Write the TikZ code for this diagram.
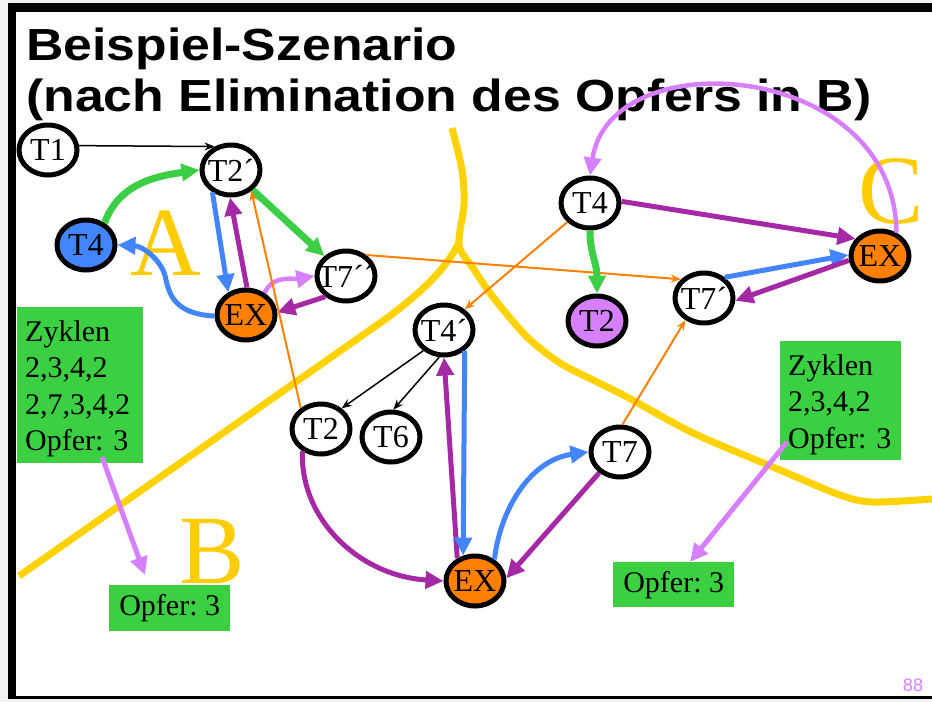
\documentclass[tikz,border=0pt]{standalone}
\usepackage{graphicx}
\usepackage{fontspec}
\setmainfont{Liberation Serif}
\newfontfamily\headfont{Liberation Sans}
\usetikzlibrary{shapes.geometric,arrows.meta}
\frenchspacing

\definecolor{boxgreen}{HTML}{3BD042}
\definecolor{agreen}{HTML}{3CCF45}
\definecolor{ablue}{HTML}{4285FF}
\definecolor{apurple}{HTML}{A528A5}
\definecolor{hintviolet}{HTML}{D680FF}
\definecolor{aorange}{HTML}{FF8000}
\definecolor{borderyellow}{HTML}{FFD200}
\definecolor{regyellow}{HTML}{FFCC00}

\tikzset{
  tnode/.style={ellipse, draw=black, line width=5pt, fill=white,
    minimum width=58pt, minimum height=50pt, inner xsep=-9pt, inner ysep=0pt,
    font=\fontsize{32}{32}\selectfont},
  fat/.style={line width=5pt, -{Triangle[length=18pt,width=17pt]}},
  slim/.style={line width=2pt, -{Stealth[length=10pt,width=8pt]}},
  greenbox/.style={fill=boxgreen, anchor=north west, inner xsep=8pt, inner ysep=0pt,
    align=left, font=\fontsize{30}{36.5}\selectfont},
  region/.style={text=regyellow, anchor=base, inner sep=0pt,
    font=\fontsize{98}{98}\selectfont},
  border/.style={draw=borderyellow, line width=7pt},
  headline/.style={anchor=base west, inner sep=0pt,
    font=\headfont\bfseries\fontsize{45}{45}\selectfont}
}

\begin{document}
\begin{tikzpicture}[x=1pt,y=-1pt]
  \useasboundingbox (0,0) rectangle (932,702);
  % frame of the slide
  \fill[black!5] (0,0) rectangle (932,702);
  \fill[white] (16,12) rectangle (932,696);
  \fill[black] (8,3) rectangle (932,12);
  \fill[black] (8,3) rectangle (16,699);
  \fill[black] (8,696) rectangle (932,699);

  \node[headline] (title1) at (26,60) {\scalebox{1.15}[1]{Beispiel-Szenario}};
  \node[headline] (title2) at (26,111) {\scalebox{1.15}[1]{(nach Elimination des Opfers in B)}};

  % borders between the regions
  \draw[border] (19,576) -- (380,323) .. controls (418,296) and (448,268) .. (460,240);
  \draw[border] plot[smooth] coordinates {(452,128) (462,170) (464,205) (459,245) (473,268)
    (493,297) (527,337) (560,363) (593,380) (627,397) (693,433) (773,467) (840,495)
    (873,502) (932,499)};

  \node[region] (ra) at (166,275) {A};
  \node[region] (rb) at (212,583) {B};
  \node[region] (rc) at (891,223) {C};

  % region A
  \node[tnode] (t1) at (48,150) {T1};
  \node[tnode] (t2a) at (231,170) {T2´};
  \node[tnode, fill=ablue] (t4a) at (86,245) {T4};
  \node[tnode, fill=aorange] (exa) at (246,315) {EX};
  \node[tnode] (t7b) at (346,276) {T7´´};
  % region C
  \node[tnode] (t4) at (590,203) {T4};
  \node[tnode, fill=hintviolet] (t2p) at (597,321) {T2};
  \node[tnode] (t7a) at (704,298) {T7´};
  \node[tnode, fill=aorange] (exc) at (880,256) {EX};
  % region B
  \node[tnode] (t4b) at (444,330) {T4´};
  \node[tnode] (t2) at (321,429) {T2};
  \node[tnode] (t6) at (391,437) {T6};
  \node[tnode] (t7) at (620,452) {T7};
  \node[tnode, fill=aorange] (exb) at (475,581) {EX};

  \node[greenbox, minimum height=156pt, text width=110pt] (zyk1) at (17,307)
    {\rule{0pt}{28pt}Zyklen\\2,3,4,2\\2,7,3,4,2\\Opfer: 3};
  \node[greenbox, minimum height=46pt, minimum width=121pt] (opf1) at (109,585) {Opfer: 3};
  \node[greenbox, minimum height=119pt, text width=105pt] (zyk2) at (780,341)
    {\rule{0pt}{28pt}Zyklen\\2,3,4,2\\Opfer: 3};
  \node[greenbox, minimum height=45pt, minimum width=121pt] (opf2) at (613,562) {Opfer: 3};
  \coordinate (p1) at (102,457);
  \coordinate (p2) at (787,442);

  \draw[slim, black, line width=1.5pt] (t1.8) -- (t2a.125);
  \draw[fat, agreen, line width=7pt] (t4a.50) to[out=70, in=188] (t2a.west);
  \draw[fat, agreen, line width=7pt] (t2a) -- (t7b);
  \draw[fat, ablue] (t2a.-130) -- (exa.128);
  \draw[fat, apurple] (exa.88) -- (t2a.-92);
  \draw[fat, ablue] (exa.182) .. controls (178,314) and (170,298) .. (166,280)
    .. controls (163,260) and (142,246) .. (t4a.east);
  \draw[fat, hintviolet, line width=4.5pt] (exa.50) to[out=65, in=190] (t7b.west);
  \draw[fat, apurple] (t7b.-135) -- (exa.5);

  \draw[slim, aorange] (t2.134) -- (t2a.-46);
  \draw[slim, aorange] (t7b.46) -- (t7a.141);
  \draw[slim, aorange] (t4.-140) -- (t4b.45);
  \draw[slim, aorange] (t7.85) -- (t7a.-130);
  \draw[slim, black, line width=1.5pt] (t4b.-135) -- (t2.45);
  \draw[slim, black, line width=1.5pt] (t4b.-100) -- (t6.85);

  \draw[fat, apurple] (t2.-130) .. controls (300,520) and (360,576) .. (exb.west);
  \draw[fat, apurple] (exb.128) -- (t4b.-90);
  \draw[fat, ablue] (t4b.-45) -- (exb.115);
  \draw[fat, ablue] (exb.48) .. controls (500,510) and (530,460) .. (t7.west);
  \draw[fat, apurple] (t7.-135) -- (exb.5);

  \draw[fat, apurple] (t4.3) -- (exc.145);
  \draw[fat, agreen, line width=7pt] (t4.south) .. controls (590,255) and (597,262) .. (t2p.north);
  \draw[fat, ablue] (t7a.45) -- (exc.178);
  \draw[fat, apurple] (exc.188) -- (t7a.-5);
  \draw[fat, hintviolet, line width=4.5pt] (exc.55) .. controls (895,60) and (610,40) .. (t4.north);

  \draw[fat, hintviolet] (p1) -- ([xshift=36pt,yshift=10pt]opf1.north west);
  \draw[fat, hintviolet] (p2) -- ([xshift=77pt]opf2.north west);

  \node[text=hintviolet, font=\headfont\fontsize{18}{18}\selectfont] (pnum) at (913,685) {88};
\end{tikzpicture}
\end{document}
